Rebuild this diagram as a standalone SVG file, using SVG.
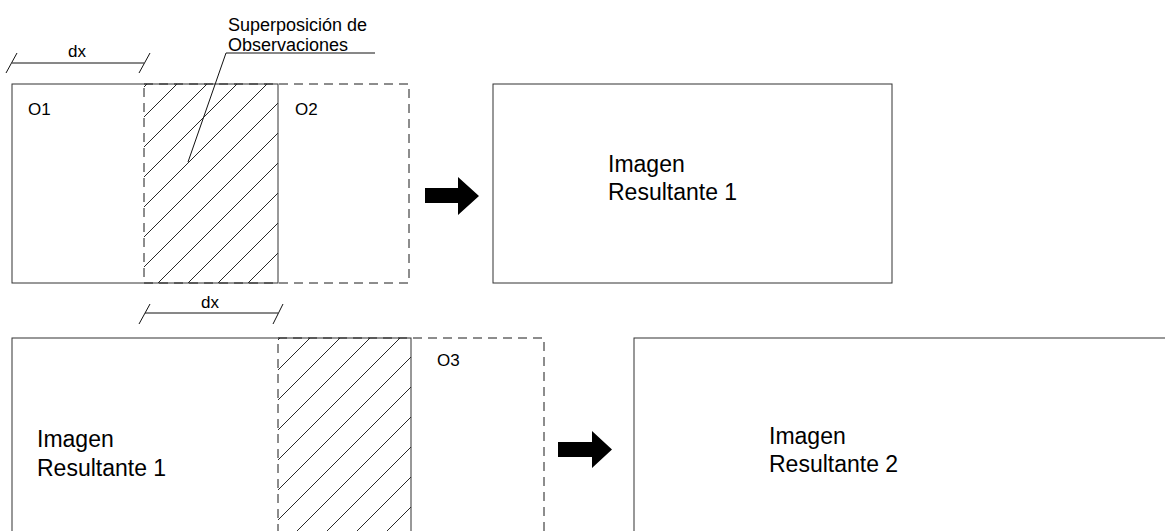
<svg xmlns="http://www.w3.org/2000/svg" width="1165" height="531" viewBox="0 0 1165 531">
<style>
  .solid { fill: none; stroke: #333; stroke-width: 1; }
  .dash { fill: none; stroke: #1a1a1a; stroke-width: 1; stroke-dasharray: 9 6; }
  .hatch line { stroke: #111; stroke-width: 0.9; }
  .thin { fill: none; stroke: #111; stroke-width: 1; }
  .arrow { fill: #000; stroke: none; }
  text { font-family: "Liberation Sans", Arial, sans-serif; fill: #000; }
  .lbl { font-size: 17px; }
  .note { font-size: 18px; }
  .big { font-size: 23px; }
</style>
<defs>
  <clipPath id="clipTop"><rect x="144" y="84" width="134" height="199"/></clipPath>
  <clipPath id="clipBot"><rect x="278" y="338" width="133" height="199"/></clipPath>
</defs>
<rect width="1165" height="531" fill="#fff"/>

<g id="overlap1" class="hatch" clip-path="url(#clipTop)">
  <line x1="-59" y1="290" x2="151" y2="80"/>
  <line x1="-29" y1="290" x2="181" y2="80"/>
  <line x1="1" y1="290" x2="211" y2="80"/>
  <line x1="31" y1="290" x2="241" y2="80"/>
  <line x1="61" y1="290" x2="271" y2="80"/>
  <line x1="91" y1="290" x2="301" y2="80"/>
  <line x1="121" y1="290" x2="331" y2="80"/>
  <line x1="151" y1="290" x2="361" y2="80"/>
  <line x1="181" y1="290" x2="391" y2="80"/>
  <line x1="211" y1="290" x2="421" y2="80"/>
  <line x1="241" y1="290" x2="451" y2="80"/>
  <line x1="271" y1="290" x2="481" y2="80"/>
</g>
<g id="overlap2" class="hatch" clip-path="url(#clipBot)">
  <line x1="78" y1="540" x2="288" y2="330"/>
  <line x1="108" y1="540" x2="318" y2="330"/>
  <line x1="138" y1="540" x2="348" y2="330"/>
  <line x1="168" y1="540" x2="378" y2="330"/>
  <line x1="198" y1="540" x2="408" y2="330"/>
  <line x1="228" y1="540" x2="438" y2="330"/>
  <line x1="258" y1="540" x2="468" y2="330"/>
  <line x1="288" y1="540" x2="498" y2="330"/>
  <line x1="318" y1="540" x2="528" y2="330"/>
  <line x1="348" y1="540" x2="558" y2="330"/>
  <line x1="378" y1="540" x2="588" y2="330"/>
  <line x1="408" y1="540" x2="618" y2="330"/>
</g>

<g id="O1">
  <rect class="solid" x="12" y="84" width="266" height="199"/>
  <text class="lbl" x="28" y="115">O1</text>
</g>
<g id="O2">
  <rect class="dash" x="144" y="84" width="265" height="199"/>
  <text class="lbl" x="295" y="115">O2</text>
</g>
<g id="result1">
  <rect class="solid" x="493" y="84" width="399" height="199"/>
  <text class="big" x="608" y="172">Imagen</text>
  <text class="big" x="608" y="200">Resultante 1</text>
</g>

<g id="result1b">
  <rect class="solid" x="12" y="338" width="399" height="199"/>
  <text class="big" x="37" y="447">Imagen</text>
  <text class="big" x="37" y="476">Resultante 1</text>
</g>
<g id="O3">
  <rect class="dash" x="278" y="338" width="266" height="199"/>
  <text class="lbl" x="437" y="366">O3</text>
</g>
<g id="result2">
  <rect class="solid" x="634" y="338" width="600" height="199"/>
  <text class="big" x="769" y="443.5">Imagen</text>
  <text class="big" x="769" y="472">Resultante 2</text>
</g>

<g id="dim1">
  <line class="thin" x1="12" y1="63" x2="144" y2="63"/>
  <line class="thin" x1="6" y1="73" x2="17" y2="53"/>
  <line class="thin" x1="139" y1="73" x2="150" y2="53"/>
  <text class="lbl" x="77" y="57" text-anchor="middle">dx</text>
</g>
<g id="dim2">
  <line class="thin" x1="145" y1="313" x2="278" y2="313"/>
  <line class="thin" x1="139" y1="324" x2="150" y2="304"/>
  <line class="thin" x1="273" y1="324" x2="283" y2="304"/>
  <text class="lbl" x="210" y="308" text-anchor="middle">dx</text>
</g>

<g id="note">
  <text class="note" x="228" y="30.5">Superposición de</text>
  <text class="note" x="228" y="50.5">Observaciones</text>
</g>

<g id="connectors">
  <polyline class="thin" points="375,53 226,53 188,162"/>
  <polygon class="arrow" points="425,188 458,188 458,177 479,196 458,215 458,203 425,203"/>
  <polygon class="arrow" points="558,442 592,442 592,431 612,449.5 592,468 592,457 558,457"/>
</g>
</svg>
